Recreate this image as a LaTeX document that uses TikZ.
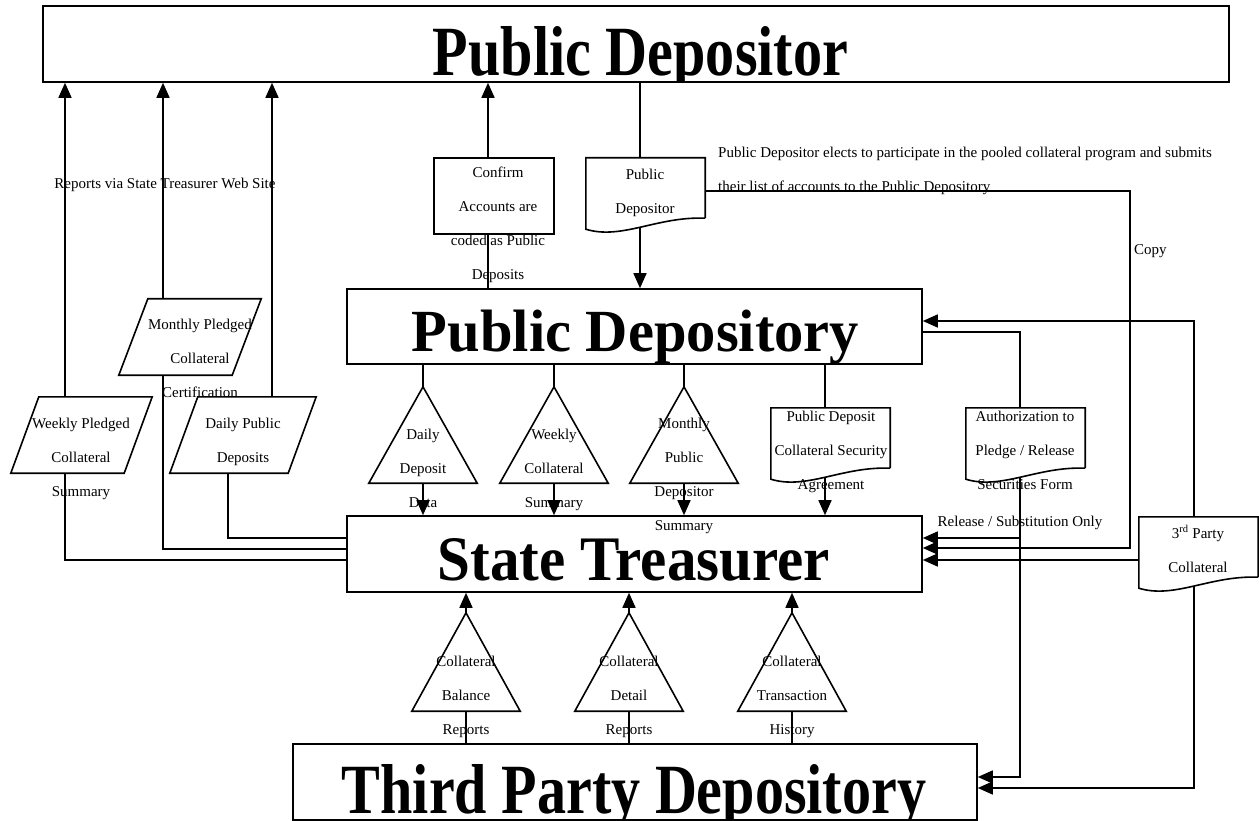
\documentclass[tikz,border=0pt]{standalone}
\usepackage{fontspec}
\setmainfont{Liberation Serif}
\usepackage{graphicx}
\usetikzlibrary{arrows.meta}
\tikzset{
  bx/.style={draw, line width=1.6pt, inner sep=0pt, rectangle},
  ghost/.style={inner sep=0pt, rectangle},
  ln/.style={line width=1.6pt},
  arr/.style={ln, -{Triangle[length=15pt,width=13pt]}},
  tx/.style={inner sep=0pt, anchor=base, font=\fontsize{15}{34}\selectfont},
}
\newcommand{\ml}[1]{\parbox[t]{200pt}{\centering\fontsize{15}{34}\selectfont #1}}
\newcommand{\ttl}[3]{\resizebox{#1}{#2}{\bfseries #3}}
\newcommand{\docpath}[1]{\draw[ln] (#1.south east) -- (#1.north east) -- (#1.north west) -- ([yshift=-11pt]#1.south west) .. controls ([xshift=35.7pt,yshift=-22pt]#1.south west) and ([xshift=71.4pt,yshift=2pt]#1.south west) .. (#1.south east);}
\newcommand{\parpath}[2]{\draw[ln] (#1.south west) -- ([xshift=#2]#1.north west) -- (#1.north east) -- ([xshift=-#2]#1.south east) -- cycle;}
\newcommand{\tripath}[1]{\draw[ln] (#1.south west) -- (#1.north) -- (#1.south east) -- cycle;}
\begin{document}
\begin{tikzpicture}[x=1pt,y=-1pt]
\useasboundingbox (0,0) rectangle (1259,821);

% main boxes
\node[bx, minimum width=1186pt, minimum height=76pt] (pdor) at (636,44) {};
\node[bx, minimum width=575pt, minimum height=75pt] (pdy) at (634.5,326.5) {};
\node[bx, minimum width=575pt, minimum height=76pt] (st) at (634.5,554) {};
\node[bx, minimum width=684pt, minimum height=76pt] (tpd) at (635,782) {};

\begin{scope}\clip (pdor.south west) rectangle (pdor.north east);
\node[anchor=base, inner sep=0pt] (pdor-t) at (640.5,76) {\ttl{415pt}{49pt}{Public Depositor}};
\end{scope}
\begin{scope}\clip (pdy.south west) rectangle (pdy.north east);
\node[anchor=base, inner sep=0pt] (pdy-t) at (635.5,351) {\ttl{447pt}{41.5pt}{Public Depository}};
\end{scope}
\begin{scope}\clip (st.south west) rectangle (st.north east);
\node[anchor=base, inner sep=0pt] (st-t) at (634,580) {\ttl{392pt}{42pt}{State Treasurer}};
\end{scope}
\begin{scope}\clip (tpd.south west) rectangle (tpd.north east);
\node[anchor=base, inner sep=0pt] (tpd-t) at (634,813) {\ttl{584pt}{49pt}{Third Party Depository}};
\end{scope}

% confirm box
\node[bx, minimum width=120pt, minimum height=76pt] (conf) at (494,196) {};

% parallelograms
\node[ghost, minimum width=142pt, minimum height=76pt] (mo) at (190,337) {};
\node[ghost, minimum width=141pt, minimum height=76pt] (wk) at (81.5,435) {};
\node[ghost, minimum width=146pt, minimum height=76pt] (dp) at (243,435) {};
\parpath{mo}{29pt}
\parpath{wk}{28pt}
\parpath{dp}{28pt}

% triangles
\node[ghost, minimum width=108pt, minimum height=96pt] (tdd) at (423,435) {};
\node[ghost, minimum width=108pt, minimum height=96pt] (twc) at (554,435) {};
\node[ghost, minimum width=108pt, minimum height=96pt] (tmp) at (684,435) {};
\node[ghost, minimum width=108pt, minimum height=98pt] (tcb) at (466,662) {};
\node[ghost, minimum width=108pt, minimum height=98pt] (tcd) at (629,662) {};
\node[ghost, minimum width=108pt, minimum height=98pt] (tct) at (792,662) {};
\tripath{tdd}\tripath{twc}\tripath{tmp}
\tripath{tcb}\tripath{tcd}\tripath{tct}

% documents
\node[ghost, minimum width=119pt, minimum height=60pt] (pdoc) at (645.5,188) {};
\node[ghost, minimum width=119pt, minimum height=60pt] (pdcsa) at (830.5,438) {};
\node[ghost, minimum width=119pt, minimum height=60pt] (auth) at (1025.5,438) {};
\node[ghost, minimum width=119pt, minimum height=60pt] (tp) at (1198.5,547) {};
\docpath{pdoc}\docpath{pdcsa}\docpath{auth}\docpath{tp}

% connector points on shapes
\coordinate (wk-t) at (65,397);   \coordinate (wk-b) at (65,473);
\coordinate (mo-t) at (163,299);  \coordinate (mo-b) at (163,375);
\coordinate (dp-t) at (272,397);  \coordinate (dp-b) at (228,473);
\coordinate (conf-t) at (488,158); \coordinate (conf-b) at (488,234);
\coordinate (pdoc-t) at (640,158); \coordinate (pdoc-b) at (640,227);
\coordinate (pdoc-r) at (705,191); \coordinate (copy-c) at (1130,191);
\coordinate (pdcsa-t) at (825,408); \coordinate (pdcsa-b) at (825,477);
\coordinate (auth-t) at (1020,408); \coordinate (auth-b) at (1020,477);
\coordinate (tp-t) at (1194,517); \coordinate (tp-b) at (1194,586); \coordinate (tp-l) at (1139,560);
\coordinate (rel) at ([yshift=16pt]st.east);

% connectors: left side
\draw[arr] (wk-t) -- (wk-t |- pdor.south);
\draw[ln] (wk-b) |- ([yshift=-6pt]st.west);
\draw[arr] (mo-t) -- (mo-t |- pdor.south);
\draw[ln] (mo-b) |- ([yshift=5pt]st.west);
\draw[arr] (dp-t) -- (dp-t |- pdor.south);
\draw[ln] (dp-b) |- ([yshift=16pt]st.west);

% confirm and public depositor doc
\draw[ln] (conf-b) -- (conf-b |- pdy.north);
\draw[arr] (conf-t) -- (conf-t |- pdor.south);
\draw[ln] (pdoc-t |- pdor.south) -- (pdoc-t);
\draw[arr] (pdoc-b) -- (pdoc-b |- pdy.north);
\draw[arr] (pdoc-r) -- (copy-c) |- ([yshift=6pt]st.east);

% public depository to state treasurer
\draw[ln] (tdd.north |- pdy.south) -- (tdd.north);
\draw[arr] (tdd.south) -- (tdd.south |- st.north);
\draw[ln] (twc.north |- pdy.south) -- (twc.north);
\draw[arr] (twc.south) -- (twc.south |- st.north);
\draw[ln] (tmp.north |- pdy.south) -- (tmp.north);
\draw[arr] (tmp.south) -- (tmp.south |- st.north);
\draw[ln] (pdcsa-t |- pdy.south) -- (pdcsa-t);
\draw[arr] (pdcsa-b) -- (pdcsa-b |- st.north);

% authorization
\draw[ln] (auth-t) |- ([yshift=-5.5pt]pdy.east);
\draw[arr] (auth-b) |- ([yshift=5pt]tpd.east);
\draw[arr] (auth-b |- rel) -- (rel);

% third party collateral
\draw[arr] (tp-t) |- ([yshift=5.5pt]pdy.east);
\draw[arr] (tp-l) -- (tp-l -| st.east);
\draw[arr] (tp-b) |- ([yshift=-6pt]tpd.east);

% third party depository to state treasurer
\draw[arr] (tcb.north) -- (tcb.north |- st.south);
\draw[ln] (tcb.south |- tpd.north) -- (tcb.south);
\draw[arr] (tcd.north) -- (tcd.north |- st.south);
\draw[ln] (tcd.south |- tpd.north) -- (tcd.south);
\draw[arr] (tct.north) -- (tct.north |- st.south);
\draw[ln] (tct.south |- tpd.north) -- (tct.south);

% texts
\node[tx] (rep-tx) at (165,189) {Reports via State Treasurer Web Site};
\node[anchor=base, inner sep=0pt] (conf-tx) at (498,178) {\ml{Confirm\\Accounts are\\coded as Public\\Deposits}};
\node[anchor=base, inner sep=0pt] (pdoc-tx) at (645,180) {\ml{Public\\Depositor}};
\node[tx, anchor=base west] (elect-tx1) at (718,158) {Public Depositor elects to participate in the pooled collateral program and submits};
\node[tx, anchor=base west] (elect-tx2) at (718,192) {their list of accounts to the Public Depository};
\node[tx, anchor=base west] (copy-tx) at (1134,255) {Copy};
\node[anchor=base, inner sep=0pt] (mo-tx) at (200,330) {\ml{Monthly Pledged\\Collateral\\Certification}};
\node[anchor=base, inner sep=0pt] (wk-tx) at (81,428) {\ml{Weekly Pledged\\Collateral\\Summary}};
\node[anchor=base, inner sep=0pt] (dp-tx) at (243,428) {\ml{Daily Public\\Deposits}};
\node[anchor=base, inner sep=0pt] (tdd-tx) at (423,439) {\ml{Daily\\Deposit\\Data}};
\node[anchor=base, inner sep=0pt] (twc-tx) at (554,439) {\ml{Weekly\\Collateral\\Summary}};
\node[anchor=base, inner sep=0pt] (tmp-tx) at (684,428) {\ml{Monthly\\Public\\Depositor\\Summary}};
\node[anchor=base, inner sep=0pt] (pdcsa-tx) at (831,421) {\ml{Public Deposit\\Collateral Security\\Agreement}};
\node[anchor=base, inner sep=0pt] (auth-tx) at (1025,421) {\ml{Authorization to\\Pledge / Release\\Securities Form}};
\node[tx] (rel-tx) at (1020,526) {Release / Substitution Only};
\node[anchor=base, inner sep=0pt] (tp-tx) at (1198,538) {\ml{3\textsuperscript{rd} Party\\Collateral}};
\node[anchor=base, inner sep=0pt] (tcb-tx) at (466,666) {\ml{Collateral\\Balance\\Reports}};
\node[anchor=base, inner sep=0pt] (tcd-tx) at (629,666) {\ml{Collateral\\Detail\\Reports}};
\node[anchor=base, inner sep=0pt] (tct-tx) at (792,666) {\ml{Collateral\\Transaction\\History}};
\end{tikzpicture}
\end{document}
